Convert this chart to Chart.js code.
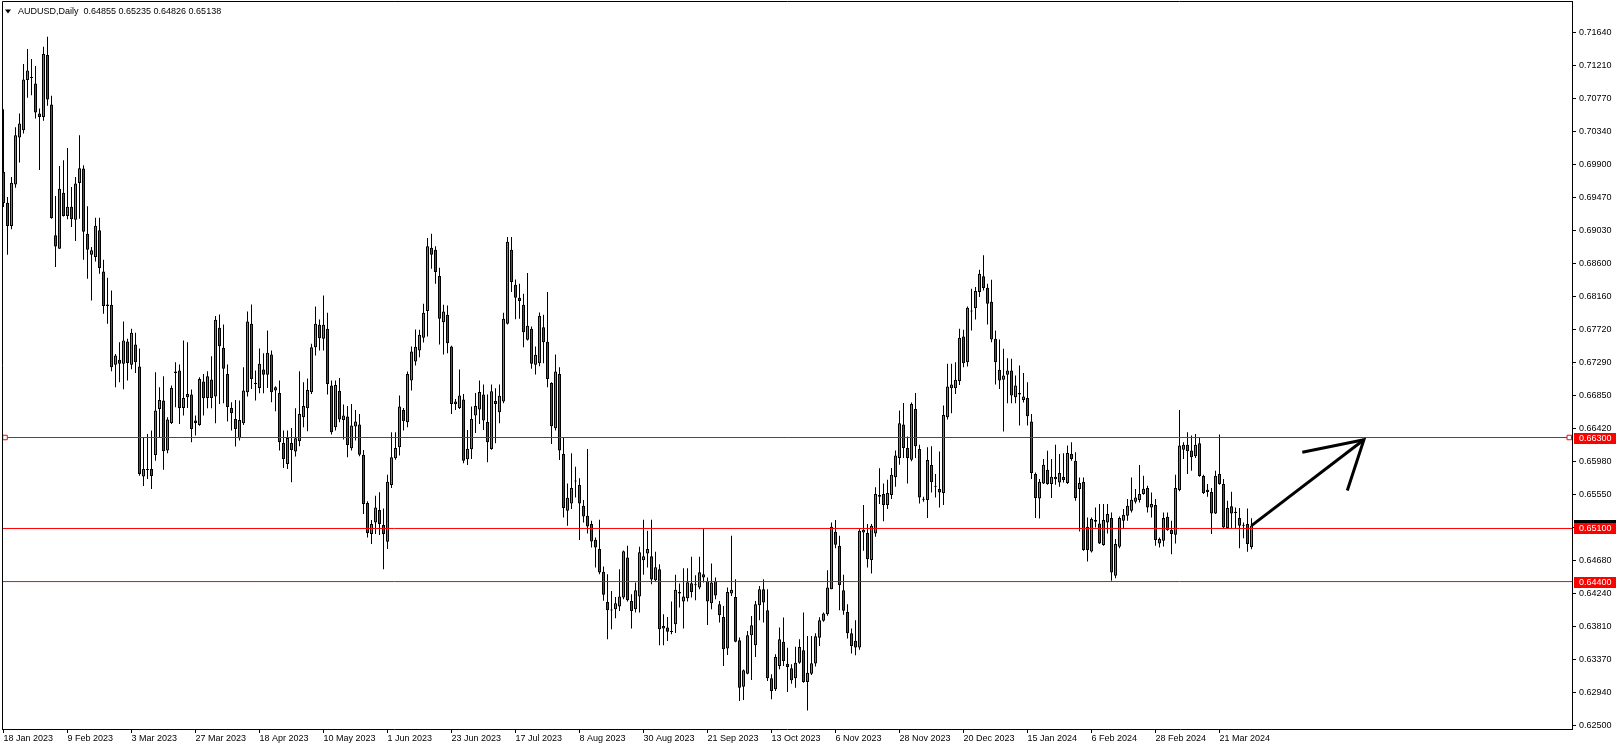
<!DOCTYPE html>
<html>
<head>
<meta charset="utf-8">
<title>AUDUSD Daily</title>
<script src="https://cdn.jsdelivr.net/npm/chart.js@4.4.1/dist/chart.umd.min.js"></script>
<style>
  html, body { margin: 0; padding: 0; background: #fff; overflow: hidden; }
  #chart { display: block; }
</style>
</head>
<body>
<canvas id="chart" width="1618" height="749"></canvas>
<script>
// ── DATA ──────────────────────────────────────────────────────────────────
// one daily bar per trading day, starting 18 Jan 2023

const symbol = 'AUDUSD,Daily';

const open = [
  .69802,.69397,.69089,.69635,.70256,.70352,.71013,.71040,.70969,.70573,
  .70528,.71343,.70691,.68966,.68790,.69529,.69221,.69344,.69173,.69657,
  .69846,.68988,.68710,.68680,.69032,.68490,.68055,.68051,.67258,.67324,
  .67271,.67566,.67258,.67526,.67236,.65787,.65884,.65884,.66069,.66677,
  .66787,.66127,.66492,.67170,.67183,.66690,.66831,.66866,.66523,.66465,
  .67038,.66822,.67064,.66840,.67747,.67483,.67139,.66690,.66545,.66290,
  .66488,.66897,.67800,.67010,.66954,.67196,.67126,.67395,.66919,.66888,
  .66228,.65951,.66228,.66114,.66250,.66567,.66686,.66897,.67491,.67786,
  .67601,.67734,.66985,.66435,.66915,.66532,.66576,.66158,.66444,.66470,
  .66074,.65436,.65026,.65180,.65343,.65145,.64925,.65673,.66026,.66171,
  .66664,.66501,.67051,.67302,.67447,.67614,.67967,.68803,.68777,.68429,
  .67821,.67918,.67500,.66774,.66690,.66800,.66012,.66144,.66589,.66668,
  .66866,.66505,.66149,.66783,.66633,.66774,.67799,.68777,.68314,.68143,
  .68050,.67588,.67733,.67258,.67280,.67755,.67562,.67020,.66422,.67139,
  .66083,.65334,.65431,.65720,.65673,.65400,.65268,.65158,.64951,.64828,
  .64529,.64132,.64022,.64035,.64070,.64189,.64718,.64145,.64035,.64203,
  .64682,.64770,.64735,.64418,.64563,.63780,.63793,.63740,.63837,.64264,
  .64136,.64181,.64379,.64350,.64321,.64497,.64409,.64114,.64409,.64101,
  .63934,.63516,.64242,.64198,.63626,.63014,.63186,.63692,.63560,.64088,
  .64299,.64022,.63124,.62979,.63287,.63608,.63318,.63256,.63124,.63331,
  .63494,.63076,.63186,.63320,.63660,.63882,.63970,.64300,.65057,.64872,
  .64287,.64000,.63720,.63620,.63530,.65048,.65039,.64683,.65035,.65541,
  .65554,.65409,.65541,.65775,.66030,.66470,.66162,.66008,.66677,.66149,
  .65485,.65475,.65937,.65655,.65620,.65568,.66567,.66950,.66950,.67042,
  .67632,.67293,.67960,.68006,.68218,.68425,.68275,.68090,.67601,.67192,
  .67060,.67126,.67183,.66831,.66888,.66796,.66822,.66510,.65818,.65497,
  .65695,.65876,.65686,.65783,.65708,.65779,.65700,.66083,.65994,.65620,
  .65717,.65123,.64797,.65211,.65167,.64881,.65180,.65237,.64476,.64859,
  .65202,.65268,.65334,.65453,.65475,.65554,.65634,.65378,.65409,.64903,
  .64938,.65255,.65079,.65017,.65607,.66140,.66206,.66127,.66052,.66223,
  .65792,.65611,.65581,.65299,.65818,.65686,.65105,.65392,.65321,.65238,
  .65140,.65158,.64855
];

const high = [
  .70630,.69472,.69736,.70392,.70573,.71224,.71422,.71290,.71198,.70639,
  .71453,.71585,.70806,.69485,.69881,.69956,.70119,.69604,.69736,.70286,
  .69890,.69349,.68812,.69199,.69199,.68644,.68407,.68239,.67400,.67557,
  .67830,.67601,.67733,.67680,.67473,.66294,.66347,.66391,.67161,.66963,
  .67108,.66567,.66985,.67293,.67262,.67579,.67557,.66932,.66589,.67095,
  .67139,.67174,.67372,.67901,.67923,.67791,.67263,.66765,.66796,.66787,
  .67227,.67962,.68055,.67183,.67474,.67412,.67712,.67447,.66976,.67051,
  .66391,.66391,.66426,.66686,.67174,.67029,.67078,.67535,.68028,.67857,
  .68174,.67945,.67051,.67051,.67086,.66734,.66717,.66743,.66664,.66611,
  .66136,.65458,.65211,.65533,.65577,.65365,.65810,.66369,.66369,.66853,
  .66690,.67170,.67500,.67725,.67720,.68063,.68931,.68988,.68821,.68539,
  .68050,.68041,.67510,.66809,.67196,.66875,.66400,.66708,.66888,.67051,
  .66998,.66866,.66998,.66950,.66998,.67945,.68944,.68944,.68385,.68328,
  .68196,.68468,.67764,.67500,.67949,.67918,.68218,.67030,.67394,.67227,
  .66303,.65695,.66091,.65915,.65761,.65475,.66149,.65202,.64982,.65215,
  .64600,.64497,.64277,.64198,.64563,.64810,.64872,.64233,.64387,.64858,
  .65215,.65070,.65215,.64792,.64630,.63969,.63934,.64136,.64489,.64374,
  .64577,.64577,.64726,.64484,.64726,.65092,.64453,.64638,.64453,.64145,
  .64079,.64321,.65004,.64431,.63661,.63240,.63749,.63947,.64145,.64343,
  .64431,.64299,.63177,.63441,.63793,.63925,.63529,.63309,.63542,.63639,
  .63991,.63683,.63683,.63720,.63930,.63992,.64551,.65180,.65211,.65004,
  .64489,.64100,.63780,.63891,.65105,.65409,.65158,.65158,.65643,.65893,
  .65695,.65744,.65898,.66127,.66655,.66756,.66312,.66760,.66888,.66206,
  .65520,.66171,.66184,.65819,.66114,.66721,.67271,.67271,.67293,.67733,
  .67720,.68028,.68262,.68284,.68513,.68702,.68328,.68381,.67711,.67593,
  .67469,.67346,.67337,.67117,.67249,.67150,.67029,.66611,.65840,.65752,
  .66017,.66126,.66017,.66206,.66083,.66091,.66193,.66237,.66105,.65774,
  .65774,.65246,.65246,.65378,.65422,.65422,.65422,.65312,.64960,.65259,
  .65356,.65488,.65774,.65620,.65937,.65796,.65664,.65576,.65488,.64982,
  .65312,.65312,.65202,.65810,.66664,.66237,.66369,.66325,.66347,.66303,
  .65810,.65686,.65634,.65862,.66338,.65752,.65466,.65585,.65378,.65369,
  .65180,.65365,.65235
];

const low = [
  .69340,.68710,.69045,.69595,.69925,.70308,.70779,.70815,.70506,.69829,
  .70476,.70674,.69186,.68548,.68790,.69215,.69177,.69076,.68891,.69186,
  .68644,.68393,.68107,.68622,.68460,.67931,.67799,.67174,.66963,.67029,
  .66936,.67051,.67201,.67152,.65796,.65660,.65752,.65620,.65994,.66303,
  .65876,.66091,.66479,.66699,.66479,.66589,.66690,.66237,.66325,.66456,
  .66589,.66686,.66686,.66488,.66743,.66752,.66510,.66391,.66180,.66259,
  .66466,.66840,.66941,.66787,.66884,.66884,.66954,.66765,.66646,.66127,
  .65898,.65885,.65709,.66048,.66184,.66435,.66382,.66875,.67381,.67447,
  .67447,.66866,.66338,.66391,.66501,.66272,.66039,.66127,.66259,.66052,
  .65290,.64982,.64894,.65026,.65013,.64564,.64828,.65634,.66008,.66061,
  .66391,.66435,.66919,.67249,.67359,.67553,.67632,.68526,.68328,.67526,
  .67394,.67412,.66611,.66664,.66677,.65959,.65937,.66017,.66360,.66479,
  .66400,.65973,.66140,.66224,.66488,.66752,.67790,.68218,.67861,.67865,
  .67491,.67580,.67205,.67130,.67240,.67280,.66963,.66215,.66391,.66003,
  .65246,.65136,.65356,.65510,.64947,.65180,.65035,.64850,.64586,.64498,
  .64146,.63639,.63771,.63916,.64013,.64167,.64136,.63780,.63991,.63991,
  .64489,.64585,.64365,.64409,.63560,.63560,.63617,.63705,.63723,.64057,
  .63780,.64136,.64189,.64154,.64299,.64387,.63828,.64035,.64167,.63859,
  .63287,.63432,.64211,.63600,.62825,.62838,.63177,.63102,.63406,.63890,
  .63859,.63089,.62847,.62957,.63243,.63287,.62944,.63054,.63001,.63318,
  .63067,.62701,.63168,.63280,.63550,.63870,.63948,.64300,.64841,.64023,
  .63961,.63650,.63450,.63430,.63500,.64806,.64586,.64507,.64991,.65422,
  .65194,.65356,.65488,.65651,.65942,.66030,.65695,.65986,.66030,.65431,
  .65453,.65238,.65576,.65510,.65378,.65409,.66536,.66620,.66875,.66994,
  .67227,.67236,.67711,.67857,.68152,.68240,.67791,.67557,.66998,.66941,
  .66378,.66752,.66752,.66752,.66457,.66760,.66457,.65752,.65237,.65233,
  .65686,.65678,.65502,.65678,.65651,.65708,.65686,.65994,.65466,.65061,
  .64806,.64665,.64784,.65114,.64894,.64872,.65035,.64410,.64445,.64841,
  .65092,.65202,.65312,.65431,.65444,.65545,.65312,.65246,.64872,.64850,
  .64863,.65070,.64762,.64903,.65590,.66017,.65818,.65862,.66030,.65783,
  .65554,.65519,.65026,.65290,.65678,.65092,.65092,.65105,.65105,.64841,
  .64973,.64793,.64826
];

const close = [
  .69393,.69089,.69661,.70286,.70440,.71022,.71140,.71048,.70586,.70528,
  .71356,.70757,.69195,.68820,.69582,.69221,.69344,.69177,.69648,.69851,
  .69014,.68776,.68768,.69093,.68534,.68033,.68033,.67227,.67381,.67271,
  .67579,.67284,.67680,.67293,.65818,.65884,.65871,.65792,.66655,.66796,
  .66118,.66536,.66954,.67152,.66690,.66822,.66875,.66413,.66492,.67073,
  .66818,.67108,.66822,.67852,.67505,.67205,.66703,.66620,.66413,.66532,
  .66919,.67830,.67073,.67007,.67271,.67126,.67417,.66897,.66963,.66237,
  .66017,.66294,.66136,.66290,.66611,.66717,.66928,.67491,.67800,.67610,
  .67786,.67007,.66369,.66994,.66536,.66589,.66202,.66457,.66510,.66074,
  .65422,.65039,.65158,.65378,.65158,.65026,.65717,.66039,.66162,.66708,
  .66514,.67139,.67434,.67496,.67654,.67945,.68821,.68711,.68482,.67865,
  .67962,.67544,.66743,.66738,.66853,.65995,.66153,.66545,.66717,.66901,
  .66523,.66237,.66910,.66743,.66849,.67865,.68882,.68350,.68143,.68099,
  .67689,.67773,.67271,.67390,.67905,.67557,.67073,.66448,.67170,.66127,
  .65369,.65506,.65634,.65722,.65431,.65259,.65127,.64929,.64850,.64520,
  .64225,.64022,.64018,.64114,.64203,.64801,.64154,.64013,.64286,.64788,
  .64735,.64828,.64427,.64590,.63771,.63815,.63740,.63736,.64291,.64242,
  .64203,.64392,.64264,.64352,.64524,.64453,.64136,.64387,.64216,.63956,
  .63507,.64264,.64291,.63608,.63001,.63230,.63692,.63824,.64101,.64299,
  .64123,.63124,.62957,.63406,.63639,.63353,.63274,.63098,.63331,.63538,
  .63076,.63199,.63322,.63680,.63890,.63979,.64322,.65123,.64885,.64353,
  .64014,.63720,.63550,.63530,.65070,.65083,.64696,.65136,.65554,.65519,
  .65409,.65568,.65810,.66061,.66488,.66162,.66030,.66743,.66184,.65510,
  .65480,.66003,.65709,.65651,.65576,.66598,.66972,.66998,.67060,.67615,
  .67280,.68011,.67962,.68231,.68460,.68271,.68064,.67593,.67293,.67051,
  .67117,.67183,.66853,.66985,.66866,.66840,.66580,.65832,.65501,.65717,
  .65942,.65686,.65783,.65748,.65832,.65739,.66096,.66016,.65501,.65700,
  .64815,.64815,.65224,.65189,.64903,.65211,.65290,.64520,.64894,.65237,
  .65281,.65400,.65479,.65510,.65554,.65625,.65378,.65422,.64947,.64960,
  .65237,.65079,.65026,.65634,.66193,.66206,.66118,.66038,.66206,.65792,
  .65567,.65581,.65299,.65796,.65686,.65114,.65370,.65299,.65304,.65136,
  .65136,.64894,.65138
];

// date labels every 16 bars
const xTickLabels = [
  '18 Jan 2023', '9 Feb 2023', '3 Mar 2023', '27 Mar 2023', '18 Apr 2023',
  '10 May 2023', '1 Jun 2023', '23 Jun 2023', '17 Jul 2023', '8 Aug 2023',
  '30 Aug 2023', '21 Sep 2023', '13 Oct 2023', '6 Nov 2023', '28 Nov 2023',
  '20 Dec 2023', '15 Jan 2024', '6 Feb 2024', '28 Feb 2024', '21 Mar 2024'
];
const xTickEvery = 16;

const yTickLabels = [
  '0.71640', '0.71210', '0.70770', '0.70340', '0.69900', '0.69470', '0.69030',
  '0.68600', '0.68160', '0.67720', '0.67290', '0.66850', '0.66420', '0.65980',
  '0.65550', '0.65110', '0.64680', '0.64240', '0.63810', '0.63370', '0.62940',
  '0.62500'
];

// horizontal levels drawn on the chart
const levels      = [0.66300, 0.65100, 0.64400];
const levelLabels = ['0.66300', '0.65100', '0.64400'];

// hand-drawn arrow (bar index, price)
const arrowShaft = [{ x: 312, y: 0.65138 }, { x: 340.1, y: 0.66270 }];
const arrowHead  = [{ x: 324.7, y: 0.66106 }, { x: 340.1, y: 0.66270 }, { x: 335.95, y: 0.65600 }];

// ── SETUP ─────────────────────────────────────────────────────────────────

const X_MIN = -0.375, X_MAX = 392.125;
const Y_MIN = 0.624559, Y_MAX = 0.720563;
const BULL = '#2fae2f';
const BEAR = '#dc1414';
const LEVEL = '#ff0000';
const FONT = 'Liberation Sans';

const N = close.length;
const idx = close.map(function(_, i) { return i; });

const wickData = idx.map(function(i) { return { x: i, y: [low[i], high[i]] }; });
const bodyData = idx.map(function(i) { return { x: i, y: [open[i], close[i]] }; });
const bodyColors = idx.map(function(i) { return close[i] >= open[i] ? BULL : BEAR; });

const levelSets = levels.map(function(v, k) {
  const anchored = k === 0;
  const pts = anchored
    ? [{ x: X_MIN, y: v }, { x: 0.375, y: v }, { x: 391.45, y: v }, { x: X_MAX, y: v }]
    : [{ x: X_MIN, y: v }, { x: X_MAX, y: v }];
  return {
    type:                 'line',
    data:                 pts,
    borderColor:          LEVEL,
    borderWidth:          1,
    pointRadius:          anchored ? [0, 3.2, 3.2, 0] : 0,
    pointStyle:           'rect',
    pointBackgroundColor: '#fff',
    pointBorderColor:     LEVEL,
    pointBorderWidth:     1,
    order:                0
  };
});

// frame, title and price labels
const overlay = {
  id: 'overlay',
  afterDraw: function(chart) {
    const ctx = chart.ctx;
    const a = chart.chartArea;
    const y = chart.scales.y;
    ctx.save();

    ctx.strokeStyle = '#000';
    ctx.lineWidth = 1;
    ctx.beginPath();
    ctx.moveTo(a.left + 0.5, a.bottom);
    ctx.lineTo(a.left + 0.5, a.top + 0.5);
    ctx.lineTo(a.right, a.top + 0.5);
    ctx.stroke();

    // title
    ctx.fillStyle = '#000';
    ctx.beginPath();
    ctx.moveTo(5, 9.5); ctx.lineTo(11, 9.5); ctx.lineTo(8, 13.5);
    ctx.closePath();
    ctx.fill();
    ctx.font = '9px "' + FONT + '"';
    ctx.textBaseline = 'middle';
    ctx.textAlign = 'left';
    const t = symbol + '  ' + [open[N - 1], high[N - 1], low[N - 1], close[N - 1]]
      .map(function(v) { return v.toFixed(5); }).join(' ');
    ctx.fillText(t, 18, 11.5);

    // bid label (mostly hidden behind the level label)
    const yb = y.getPixelForValue(close[N - 1]);
    ctx.fillStyle = '#000';
    ctx.fillRect(a.right + 2, Math.round(yb) - 6, 42, 11);

    levels.forEach(function(v, k) {
      const py = y.getPixelForValue(v);
      ctx.fillStyle = LEVEL;
      ctx.fillRect(a.right + 2, Math.round(py) - 5, 42, 11);
      ctx.fillStyle = '#fff';
      ctx.fillText(levelLabels[k], a.right + 7, Math.round(py) + 0.5);
    });

    ctx.restore();
  }
};

// ── CHART ─────────────────────────────────────────────────────────────────

new Chart(document.getElementById('chart'), {
  type: 'bar',
  data: {
    datasets: [
      { type: 'line', data: arrowShaft, borderColor: '#000', borderWidth: 3, pointRadius: 0, order: 0 },
      { type: 'line', data: arrowHead,  borderColor: '#000', borderWidth: 3, pointRadius: 0,
        borderJoinStyle: 'miter', order: 0 }
    ].concat(levelSets).concat([
      {
        data:            bodyData,
        backgroundColor: bodyColors,
        borderColor:     '#000',
        borderWidth:     1,
        borderSkipped:   false,
        barThickness:    3,
        minBarLength:    1,
        grouped:         false,
        inflateAmount:   0,
        order:           1
      },
      {
        data:            wickData,
        backgroundColor: '#000',
        borderWidth:     0,
        barThickness:    1,
        grouped:         false,
        inflateAmount:   0,
        order:           2
      }
    ])
  },
  options: {
    responsive:       false,
    animation:        false,
    devicePixelRatio: 1,
    events:           [],
    layout: { padding: { left: 2, top: 1, right: 0, bottom: 0 } },
    plugins: {
      legend:  { display: false },
      tooltip: { enabled: false }
    },
    scales: {
      x: {
        type:   'linear',
        min:    X_MIN,
        max:    X_MAX,
        offset: false,
        grid:   { display: true, drawOnChartArea: false, drawTicks: true, tickLength: 4, color: '#000', offset: false },
        border: { display: true, color: '#000', width: 1 },
        ticks: {
          autoSkip:    false,
          maxRotation: 0,
          align:       'start',
          padding:     0,
          color:       '#000',
          font:        { family: FONT, size: 9 },
          callback: function(v, i) { return xTickLabels[i]; }
        },
        afterBuildTicks: function(scale) {
          scale.ticks = xTickLabels.map(function(_, k) { return { value: k * xTickEvery }; });
        },
        afterFit: function(scale) {
          scale.height = 20;
          scale.paddingLeft = 0;
          scale.paddingRight = 0;
        }
      },
      y: {
        type:     'linear',
        position: 'right',
        min:      Y_MIN,
        max:      Y_MAX,
        grid:     { display: true, drawOnChartArea: false, drawTicks: true, tickLength: 4, color: '#000' },
        border:   { display: true, color: '#000', width: 1 },
        ticks: {
          autoSkip: false,
          padding:  3,
          color:    '#000',
          font:     { family: FONT, size: 9 },
          callback: function(v, i) { return yTickLabels[i]; }
        },
        afterBuildTicks: function(scale) {
          scale.ticks = yTickLabels.map(function(s) { return { value: parseFloat(s) }; });
        },
        afterFit: function(scale) {
          scale.width = 46;
          scale.paddingTop = 0;
          scale.paddingBottom = 0;
        }
      }
    }
  },
  plugins: [overlay]
});
</script>
</body>
</html>
